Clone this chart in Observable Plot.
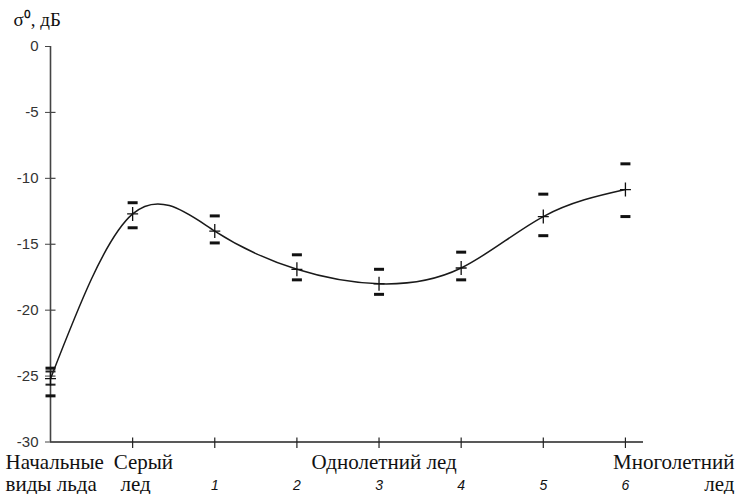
<!DOCTYPE html>
<html>
<head>
<meta charset="utf-8">
<script src="https://cdn.jsdelivr.net/npm/d3@7"></script>
<script src="https://cdn.jsdelivr.net/npm/@observablehq/plot@0.6"></script>
<style>
  html, body { margin: 0; padding: 0; background: #fff; }
  #chart svg { display: block; }
  #chart svg text.serif { font-family: "Liberation Serif", "Times New Roman", serif; }
</style>
</head>
<body>
<div id="chart"></div>
<script>
// ---- data ----
const xIdx = [0, 1, 2, 3, 4, 5, 6, 7];
const meanVals  = [-25.2, -12.7, -14.0, -16.9, -18.0, -16.8, -12.9, -10.85];
const upperVals = [-24.4, -11.85, -12.85, -15.8, -16.9, -15.6, -11.2, -8.9];
const lowerVals = [-26.5, -13.75, -14.9, -17.7, -18.8, -17.7, -14.35, -12.9];
const extraX = [0, 0];
const extraVals = [-24.65, -25.65];

const yTicks = [0, -5, -10, -15, -20, -25, -30];
const numLabels = ["1", "2", "3", "4", "5", "6"];
const numX = [2, 3, 4, 5, 6, 7];
const yTitle = "σ⁰, дБ";

// ---- symbols (pixel shapes) ----
const dash = (hw, th) => ({draw(ctx) { ctx.rect(-hw, -th / 2, 2 * hw, th); }});
const plus = (hw, hh) => ({draw(ctx) { ctx.moveTo(-hw, 0); ctx.lineTo(hw, 0); ctx.moveTo(0, -hh); ctx.lineTo(0, hh); }});
const vTick = (up, down) => ({draw(ctx) { ctx.moveTo(0, -up); ctx.lineTo(0, down); }});
const rTick = (len) => ({draw(ctx) { ctx.moveTo(0, 0); ctx.lineTo(len, 0); }});

const serif = "Liberation Serif";
const sans = "Liberation Sans";
const axisColor = "#444";
const lab = {y: () => -30, lineAnchor: "bottom", fontSize: 21, fontFamily: serif, fill: "#111"};

const chart = Plot.plot({
  width: 735,
  height: 494,
  marginLeft: 50,
  marginRight: 92,
  marginTop: 46,
  marginBottom: 52.5,
  x: {domain: [0, 7.22], axis: null},
  y: {domain: [-30, 0], axis: null},
  style: {background: "#fff", overflow: "visible"},
  marks: [
    // axes lines
    Plot.ruleX([0], {y1: -30, y2: 0, stroke: axisColor, strokeWidth: 1.6}),
    Plot.ruleY([-30], {stroke: "#222", strokeWidth: 1.4}),
    // y axis ticks + labels
    Plot.axisY({ticks: yTicks, tickSize: 5, tickPadding: 7, tickFormat: d => String(d),
      fontSize: 15, fontFamily: sans, fill: "#333", stroke: axisColor, label: null}),
    Plot.dot(yTicks.filter(d => d !== 0 && d !== -30), {x: () => 0, y: d => d, symbol: rTick(5), stroke: axisColor, fill: "none", strokeWidth: 1.2}),
    // x axis ticks
    Plot.dot(xIdx.slice(1), {x: d => d, y: () => -30, symbol: vTick(4.5, 6), stroke: "#222", fill: "none", strokeWidth: 1.2}),
    // smooth curve
    Plot.line(xIdx, {x: d => d, y: i => meanVals[i], curve: "natural", stroke: "#1a1a1a", strokeWidth: 1.5}),
    // error bars
    Plot.dot(xIdx, {x: d => d, y: i => upperVals[i], symbol: dash(5, 3), fill: "#111", stroke: "none"}),
    Plot.dot(xIdx, {x: d => d, y: i => lowerVals[i], symbol: dash(5, 3), fill: "#111", stroke: "none"}),
    Plot.dot(extraX.map((x, i) => i), {x: i => extraX[i], y: i => extraVals[i], symbol: dash(5, 2), fill: "#222", stroke: "none"}),
    // mean markers
    Plot.dot(xIdx, {x: d => d, y: i => meanVals[i], symbol: plus(5.5, 7), stroke: "#111", fill: "none", strokeWidth: 1.3}),
    // y title
    Plot.text([yTitle], {frameAnchor: "top-left", dx: -37, dy: -21, textAnchor: "start", lineAnchor: "bottom", fontSize: 19, fontFamily: serif, fill: "#111"}),
    // x category labels (row 1)
    Plot.text(["Начальные"], {...lab, x: () => 0, dx: -45, dy: 26.5, textAnchor: "start"}),
    Plot.text(["Серый"], {...lab, x: () => 1, dx: -19, dy: 26.5, textAnchor: "start"}),
    Plot.text(["Однолетний лед"], {...lab, x: () => 4, dx: 5, dy: 26.5, textAnchor: "middle"}),
    Plot.text(["Многолетний"], {...lab, x: () => 7, dx: 109, dy: 26.5, textAnchor: "end"}),
    // row 2
    Plot.text(["виды льда"], {...lab, x: () => 0, dx: -45, dy: 48.5, textAnchor: "start"}),
    Plot.text(["лед"], {...lab, x: () => 1, dx: 3, dy: 48.5, textAnchor: "middle"}),
    Plot.text(["лед"], {...lab, x: () => 7, dx: 109, dy: 48.5, textAnchor: "end"}),
    Plot.text(numLabels, {x: (d, i) => numX[i], y: () => -30, dy: 48, textAnchor: "middle", lineAnchor: "bottom", fontSize: 14, fontStyle: "italic", fontFamily: sans, fill: "#111"})
  ]
});
document.getElementById("chart").appendChild(chart);
</script>
</body>
</html>
